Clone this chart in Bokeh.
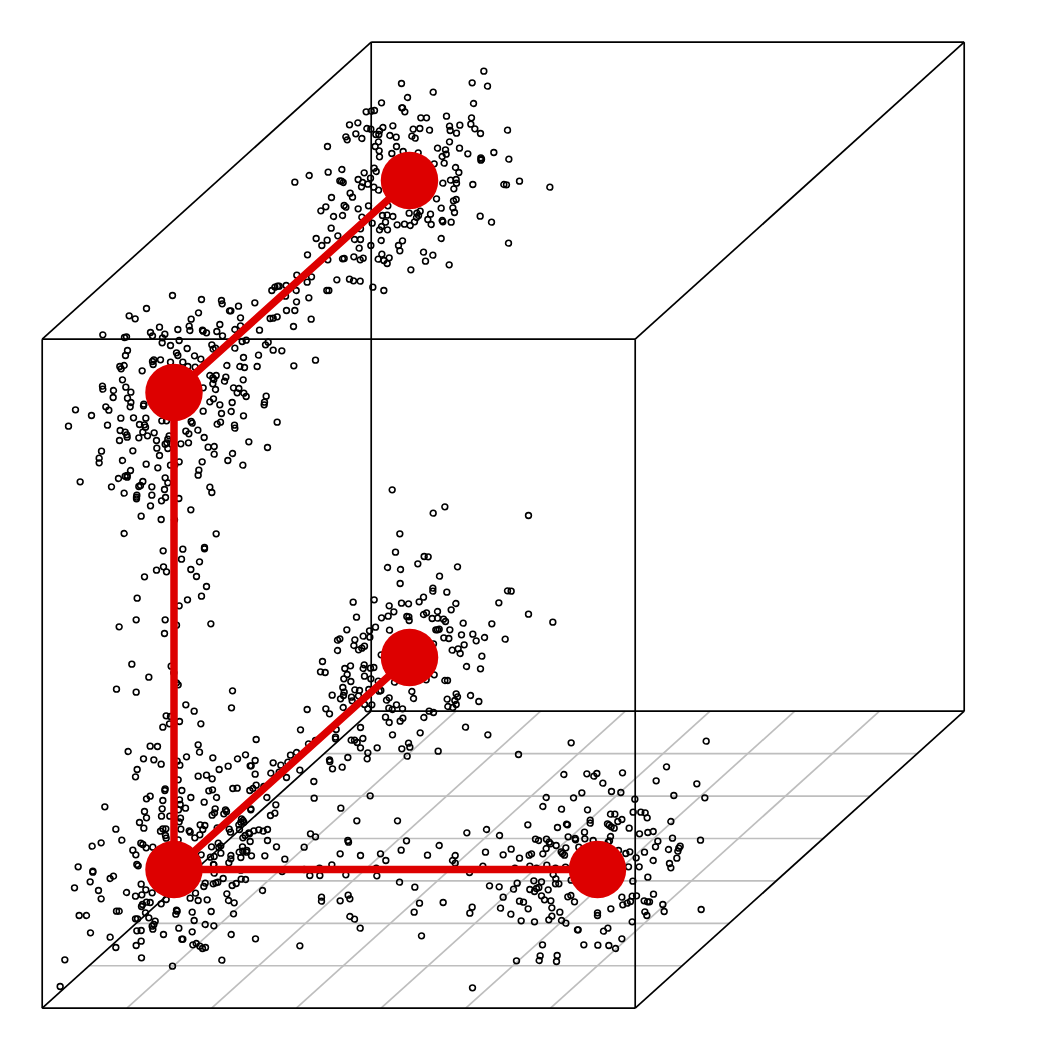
from bokeh.plotting import figure
from bokeh.embed import file_html
from bokeh.resources import INLINE

# Values, in 1/3-pixel reading units, per region of the cube
upper_cloud = [(610,32),(575,67),(621,77),(363,69),(458,95),(381,111),(303,127),(579,129),(364,142),(366,142),(373,154),(257,154),(272,152),(282,150),(498,167),(421,172),(438,172),(573,172),(571,191),(207,193),(232,187),(337,196),(307,201),(259,204),(271,206),(297,211),(398,206),(418,204),(447,209),(507,197),(509,210),(538,194),(583,205),(528,218),(600,219),(681,209),(226,220),(196,229),(200,238),(244,234),(286,222),(295,222),(328,225),(347,230),(394,227),(404,233),(294,244),(507,244),(141,258),(284,258),(348,258),(296,271),(471,263),(495,268),(537,263),(334,279),(368,273),(413,277),(497,281),(485,288),(562,280),(640,276),(297,289),(601,292),(603,296),(601,299),(685,296),(491,308),(461,310),(143,335),(184,327),(86,345),(43,365),(251,337),(281,323),(287,333),(525,321),(535,336),(233,357),(270,353),(178,361),(183,362),(188,366),(246,366),(262,371),(243,379),(280,380),(294,389),(487,368),(510,359),(527,357),(528,368),(577,372),(520,385),(670,372),(678,373),(717,362),(808,380),(209,398),(216,410),(153,411),(468,415),(527,417),(519,421),(136,439),(121,451),(191,435),(196,440),(233,445),(264,436),(322,436),(482,443),(517,442),(522,456),(159,468),(186,465),(244,470),(386,458),(306,465),(320,464),(337,468),(419,452),(409,458),(414,465),(408,471),(450,461),(442,477),(402,484),(599,467),(633,485),(275,488),(315,485),(485,480),(487,484),(512,485),(452,492),(350,493),(372,491),(389,495),(152,503),(240,505),(303,498),(297,508),(321,508),(172,526),(107,534),(140,539),(222,537),(240,537),(302,540),(366,541),(482,534),(124,555),(271,555),(354,555),(236,563),(358,571),(684,548),(429,575),(81,583),(304,581),(457,584),(220,589),(186,595),(191,594),(142,598),(248,593),(239,598),(293,596),(326,592),(310,600),(320,609),(435,602),(506,613),(391,628),(49,644),(93,649),(169,658),(207,656),(219,661),(239,662),(277,680),(310,690)]

left_cloud = [(366,45),(453,57),(513,60),(515,70),(564,77),(613,67),(288,84),(444,97),(541,91),(537,91),(236,106),(254,115),(422,116),(570,112),(508,132),(570,136),(416,137),(418,150),(327,140),(382,147),(300,156),(306,166),(343,161),(336,172),(456,149),(458,152),(468,157),(499,153),(516,166),(553,147),(627,149),(157,163),(222,171),(228,169),(335,187),(386,180),(360,195),(575,183),(587,179),(653,185),(645,193),(484,193),(488,206),(495,203),(410,204),(553,203),(668,209),(694,211),(231,210),(225,225),(378,217),(382,225),(432,226),(451,236),(624,224),(579,231),(795,239),(310,238),(306,243),(308,252),(330,238),(360,245),(397,245),(529,255),(568,258),(582,261),(620,258),(730,256),(208,258),(212,265),(221,255),(275,271),(412,258),(434,260),(478,285),(497,285),(487,292),(490,297),(487,310),(526,290),(522,302),(578,298),(216,298),(226,320),(156,317),(157,326),(189,330),(241,335),(188,351),(458,322),(495,327),(549,322),(565,324),(560,337),(580,338),(587,348),(231,353),(241,366),(239,379),(489,355),(478,364),(545,366),(508,373),(647,347),(642,365),(641,373),(166,379),(175,389),(75,388),(280,371),(279,376),(458,392),(542,393),(513,399),(123,405),(211,413),(249,412),(286,413),(579,406),(54,437),(171,434),(334,421),(348,421),(422,423),(425,428),(510,425),(500,431),(680,425),(267,432),(282,433),(285,440),(552,434),(553,443),(209,450),(224,455),(277,455),(229,463),(230,470),(406,452),(415,460),(442,449),(291,466),(311,457),(265,472),(356,466),(352,476),(461,471),(207,480),(318,480),(349,487),(344,491),(391,490),(414,487),(595,484),(319,503),(352,504),(473,500),(491,498),(651,501),(153,512),(247,511),(327,525),(491,521),(546,519),(146,533),(216,540),(146,547),(386,544),(455,544),(532,540),(287,551),(360,554),(373,553),(577,554),(322,562),(240,570),(445,569),(443,584),(230,585),(224,587),(230,590),(204,594),(89,604),(344,592),(352,607),(277,603),(270,615),(265,618),(183,619),(304,619),(342,627),(478,620),(484,636),(221,638),(304,644),(259,644),(258,650),(258,655),(345,651),(385,654),(333,661),(300,676),(421,688),(272,707),(332,717),(664,30),(673,20),(681,17),(686,17),(707,15),(770,5),(737,30),(829,30),(835,30),(705,47),(738,64),(775,52),(708,90),(733,90),(659,114),(668,113),(680,109),(782,116),(729,138)]

column_cloud = [(71,99),(347,100),(188,151),(247,146),(312,141),(312,145),(243,176),(297,184),(189,199),(168,209),(198,214),(271,207),(132,229),(288,228),(318,258),(303,287),(110,293),(261,298),(236,316),(107,358),(194,358),(228,374),(56,379),(331,370),(192,399),(94,491),(212,497),(220,517),(145,530),(228,547),(233,553),(48,566),(107,575),(396,571),(393,622),(256,613),(281,632),(197,646),(210,648),(222,58)]

corner_cloud = [(367,20),(387,10),(417,3),(481,10),(780,28),(647,57),(329,77),(351,78),(473,73),(263,93),(477,95),(438,109),(804,70),(825,60),(768,96),(750,104),(309,115),(340,118),(362,131),(517,112),(591,115),(615,103),(644,120),(410,122),(418,134),(629,136),(632,136),(721,134),(698,127),(742,125),(290,147),(536,147),(563,137),(644,161),(285,169),(473,167),(498,164),(515,175),(413,178),(691,158),(716,155),(738,171),(778,149),(820,183),(577,204),(590,203),(374,205),(373,210),(424,210),(505,211),(516,208),(628,210),(637,204),(647,194),(670,198),(318,235),(329,227),(367,240),(451,231),(417,238),(528,231),(679,231),(821,233),(491,245),(193,259),(419,252),(365,265),(414,268),(435,263),(524,265),(522,277),(515,284),(631,265),(631,268),(555,268),(558,273),(550,280),(706,253),(703,278),(690,285),(312,273),(318,292),(363,287),(388,287),(420,293),(416,304),(297,306),(479,313),(493,315),(603,295),(607,300),(610,305),(595,313),(601,305),(310,323),(226,326),(360,332),(367,325),(376,325),(421,326),(446,331),(449,335),(530,322),(487,327),(566,326),(570,335),(597,327),(640,331),(655,328),(668,332),(681,327),(625,337),(627,340),(614,345),(607,352),(478,343),(463,352),(375,345),(377,353),(413,358),(244,359),(629,363),(681,360),(810,340),(825,349),(182,367),(155,377),(301,368),(307,372),(317,382),(337,380),(533,368),(541,376),(535,381),(513,379),(708,379),(791,380),(277,389),(286,403),(482,403),(541,398),(596,395),(606,379),(607,392),(619,390),(618,395),(633,406),(673,406),(521,408),(510,410),(601,411),(571,405),(571,415),(565,427),(733,416),(289,432),(293,436),(519,432),(113,439),(157,452),(157,455),(219,467),(209,474),(520,433),(601,449),(725,453),(791,447),(149,484),(521,458),(548,474),(602,476),(615,477),(587,489),(575,495),(532,485),(518,490),(526,487),(494,488),(490,498),(102,502),(302,491),(808,465),(838,465),(666,510),(174,510),(316,508),(182,535),(258,516),(304,523),(285,527),(335,517),(465,518),(559,520),(449,533),(473,540),(500,538),(564,540),(581,547),(329,546),(362,550),(377,537),(306,552),(303,558),(318,545),(408,569),(410,572),(406,581),(455,575),(512,573),(228,572),(236,572),(116,585),(138,585),(579,580),(315,577),(285,595),(291,595),(325,592),(461,600),(344,602),(494,612),(520,616),(340,612),(335,617),(337,626),(415,623),(289,631),(302,630),(150,637),(369,642),(455,634),(572,642),(209,650),(424,656),(427,656),(645,655),(302,662),(287,675),(457,673),(467,669),(478,677),(486,684),(495,681),(226,681),(778,676),(303,712),(73,718),(544,719),(396,737),(59,798)]

rear_cloud = [(305,28),(463,79),(428,98),(714,105),(328,160),(315,215),(401,228),(413,229),(382,250),(291,261),(330,267),(501,259),(447,287),(329,309),(427,323),(427,332),(469,335),(651,331),(662,332),(399,350),(386,364),(188,365),(251,358),(333,368),(354,370),(496,369),(625,367),(296,376),(482,388),(273,412),(293,407),(310,394),(198,410),(349,408),(355,409),(356,420),(399,402),(408,397),(441,393),(425,414),(441,413),(459,416),(465,423),(714,401),(787,425),(518,428),(604,430),(255,440),(297,449),(237,451),(169,448),(218,467),(238,470),(436,448),(441,448),(446,446),(478,448),(513,463),(547,461),(460,472),(475,474),(557,481),(582,471),(644,476),(141,479),(148,475),(193,478),(190,495),(222,497),(214,503),(204,508),(141,510),(429,490),(485,509),(503,505),(521,493),(509,519),(574,527),(272,523),(96,543),(180,556),(221,553),(218,564),(163,564),(240,563),(250,561),(528,558),(570,565),(90,574),(104,576),(170,582),(222,587),(160,595),(241,595),(181,603),(263,602),(431,583),(407,598),(312,605),(463,600),(471,600),(157,621),(193,628),(207,630),(235,627),(266,632),(271,630),(161,635),(159,645),(125,644),(364,633),(296,652),(288,659),(369,654),(183,650),(150,655),(185,661),(204,646),(497,640),(501,649),(540,645),(470,656),(493,660),(565,663),(472,678),(497,672),(487,681),(222,672),(244,673),(318,673),(158,681),(295,683),(305,687),(336,685),(232,685),(50,687),(106,685),(117,700),(416,692),(429,696),(400,711),(285,710),(337,713),(296,726),(329,722),(389,757),(137,747),(210,741),(306,763),(135,770),(135,775),(217,774),(182,779),(192,779),(200,786),(210,802),(354,788),(358,800),(260,802),(334,805),(443,812),(232,817),(172,831),(350,827),(230,835),(117,838)]

floor_mid_cloud = [(148,3),(156,25),(185,20),(269,106),(181,143),(229,181),(351,181),(202,240),(204,245),(378,241),(476,255),(362,269),(179,280),(240,285),(300,280),(441,284),(316,300),(154,313),(117,323),(287,323),(196,343),(289,346),(357,365),(403,380),(203,404),(208,415),(123,410),(123,422),(179,421),(417,428),(488,426),(401,455),(208,468),(222,476),(239,503),(423,526)]

floor_right_cloud = [(45,20),(112,43),(362,67),(767,62),(204,102),(648,139),(340,162),(409,160),(430,167),(439,159),(516,157),(617,181),(457,188),(739,190),(394,217),(483,213),(511,216),(369,232),(287,231),(553,236),(670,225),(763,232),(277,258),(333,266),(411,268),(548,275),(571,275),(584,277),(480,281),(493,281),(590,292),(514,297),(502,303),(419,299),(419,308),(661,303),(232,313),(348,311),(351,313),(471,310),(476,314),(482,319),(491,323),(321,321),(536,323),(49,337),(108,327),(402,335),(567,340),(592,336),(608,333),(147,345),(353,349),(480,348),(255,356),(264,360),(288,356),(296,365),(300,370),(374,354),(375,358),(403,355),(428,360),(666,353),(750,359),(477,361),(473,365),(622,362),(317,375),(287,384),(346,382),(182,386),(385,380),(615,379),(689,377),(685,383),(682,392),(654,387),(105,395),(158,403),(243,400),(236,404),(277,400),(332,394),(336,399),(342,404),(504,390),(526,399),(538,394),(582,395),(14,405),(6,420),(14,428),(207,413),(557,412),(608,420),(679,413),(657,429),(97,437),(238,437),(289,434),(193,443),(258,443),(315,443),(345,440),(534,439),(566,439),(661,442),(57,456),(308,462),(592,470),(316,475),(250,481),(273,484),(200,488),(315,490),(325,490),(362,479),(547,482),(117,496),(146,499),(189,506),(265,501),(258,504),(238,507),(252,513),(293,508),(273,526),(352,529),(361,525),(514,530),(558,526),(545,527),(609,521),(158,530),(282,538),(301,541),(207,542),(219,545),(372,544),(530,548),(540,543),(517,553),(581,541),(591,544),(597,544),(637,552),(65,560),(150,563),(233,565),(304,562),(481,565),(752,567),(58,578),(181,581),(328,575),(441,577),(441,585),(583,574),(589,585),(641,573),(304,587),(295,598),(333,600),(346,608),(212,601),(252,604),(545,604),(381,628),(383,628),(472,623),(459,632),(276,673),(400,673),(442,674),(475,675),(514,655),(495,684),(269,706),(320,705),(266,720),(318,723),(198,721),(66,802)]

cloud_origins = [
    (upper_cloud, 280, 60), (left_cloud, 50, 280), (column_cloud, 100, 500),
    (corner_cloud, 40, 720), (rear_cloud, 290, 480),
    (floor_mid_cloud, 280, 760), (floor_right_cloud, 450, 720),
]

centre_x = [597, 173.5, 409, 173.5, 409]
centre_y = [869, 869, 657, 392, 180]
path_a_x = [597, 173.5, 409]
path_a_y = [869, 869, 657]
path_b_x = [173.5, 173.5, 409]
path_b_y = [869, 392, 180]

# Cube corners: front lower-left, front size, depth shift
cube_x0, cube_y0 = 41.7, 1007.7
cube_w, cube_h = 593, 669
depth_x, depth_y = 329, 297
floor_cells = 7

p = figure(width=1034, height=1034, x_range=(0, 1034), y_range=(1034, 0),
           x_axis_type=None, y_axis_type=None, toolbar_location=None,
           output_backend="svg", min_border=0, outline_line_color=None,
           background_fill_color="white", border_fill_color="white")

# floor grid
gx0, gy0, gx1, gy1 = [], [], [], []
for k in range(1, floor_cells):
    t = k / floor_cells
    gx0.append(cube_x0 + cube_w * t); gy0.append(cube_y0)
    gx1.append(cube_x0 + cube_w * t + depth_x); gy1.append(cube_y0 - depth_y)
    gx0.append(cube_x0 + depth_x * t); gy0.append(cube_y0 - depth_y * t)
    gx1.append(cube_x0 + depth_x * t + cube_w); gy1.append(cube_y0 - depth_y * t)
p.segment(gx0, gy0, gx1, gy1, line_color="#BEBEBE", line_width=1.7)

# cube edges
L, R, B, T = cube_x0, cube_x0 + cube_w, cube_y0, cube_y0 - cube_h
dx, dy = depth_x, depth_y
ex0 = [L, L, L, R, L+dx, L+dx, L+dx, R+dx, L, R, R, L]
ey0 = [B, T, B, B, B-dy, T-dy, B-dy, B-dy, T, T, B, B]
ex1 = [R, R, L, R, R+dx, R+dx, L+dx, R+dx, L+dx, R+dx, R+dx, L+dx]
ey1 = [B, T, T, T, B-dy, T-dy, T-dy, T-dy, T-dy, T-dy, B-dy, B-dy]
p.segment(ex0, ey0, ex1, ey1, line_color="black", line_width=1.7)

xs, ys = [], []
for cloud, ox, oy in cloud_origins:
    for zx, zy in cloud:
        xs.append(ox + zx / 3)
        ys.append(oy + zy / 3)
p.scatter(xs, ys, marker="circle", size=5.8, fill_color=None, line_color="black", line_width=1.6)

p.line(path_a_x, path_a_y, line_color="#DD0000", line_width=7.5)
p.line(path_b_x, path_b_y, line_color="#DD0000", line_width=7.5)
p.scatter(centre_x, centre_y, marker="circle", size=57.5, fill_color="#DD0000", line_color=None)

open("out.html", "w").write(file_html(p, INLINE))
